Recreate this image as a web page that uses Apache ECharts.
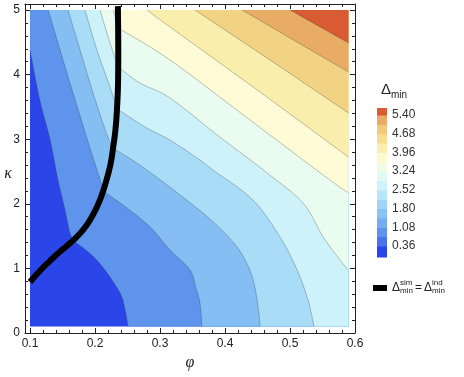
<!DOCTYPE html>
<html>
<head>
<meta charset="utf-8">
<script src="https://cdn.jsdelivr.net/npm/echarts@6/dist/echarts.min.js"></script>
<style>
html, body { margin: 0; padding: 0; background: #fff; }
#chart { width: 464px; height: 377px; }
</style>
</head>
<body>
<div id="chart"></div>
<script>
// data extent of the contour plot
const phiRange = [0.1, 0.59];
const kappaRange = [0.1, 5.0];

// contour lines, [phi, kappa]; split into pieces at the kinks
// (the kinks sit on the thick black line). low side is left / below.
const contour1 = [
    [[0.1,4.38],[0.115,3.61],[0.131,2.99],[0.143,2.37],[0.154,1.9],[0.1615,1.55],[0.169,1.41]],
    [[0.169,1.41],[0.19,1.25],[0.212,1.02],[0.2385,0.62],[0.2462,0.36],[0.251,0.1]]
];
const contour2 = [
    [[0.128,5.0],[0.154,4.12],[0.185,3.1],[0.208,2.37],[0.214,2.19]],
    [[0.214,2.19],[0.254,1.9],[0.285,1.64],[0.315,1.29],[0.346,0.98],[0.355,0.71],[0.3615,0.46],[0.3646,0.1]]
];
const contour3 = [
    [[0.1585,5.0],[0.177,4.38],[0.197,3.715],[0.2185,3.065],[0.228,2.86]],
    [[0.228,2.86],[0.269,2.6],[0.315,2.26],[0.366,1.858],[0.395,1.594],[0.4185,1.331],[0.435,1.05],[0.445,0.75],[0.451,0.4],[0.454,0.1]]
];
const contour4 = [
    [[0.1846,5.0],[0.203,4.381],[0.223,3.808],[0.234,3.47]],
    [[0.234,3.47],[0.277,3.189],[0.315,2.988],[0.357,2.709],[0.3815,2.523],[0.443,2.059],[0.4846,1.486],[0.511,0.975],[0.528,0.5],[0.537,0.1]]
];
const contour5 = [
    [[0.2077,5.0],[0.2231,4.489],[0.2358,4.12]],
    [[0.2358,4.12],[0.269,3.87],[0.3154,3.638],[0.392,3.034],[0.463,2.492],[0.52,2.012],[0.551,1.486],[0.577,1.13],[0.59,0.97]]
];
const contour6 = [
    [[0.228,5.0],[0.2356,4.72]],
    [[0.2356,4.72],[0.3154,4.226],[0.4385,3.297],[0.5615,2.368],[0.59,2.17]]
];
const contour7 = [[[0.28,5.0],[0.3154,4.737],[0.4538,3.731],[0.59,2.724]]];
const contour8 = [[[0.3538,5.0],[0.4692,4.226],[0.59,3.406]]];
const contour9 = [[[0.4262,5.0],[0.508,4.52],[0.59,4.041]]];
const contour10 = [[[0.5,5.0],[0.59,4.49]]];
const contours = [contour1, contour2, contour3, contour4, contour5, contour6, contour7, contour8, contour9, contour10];

// fill colour of each band, lowest first
const bandColors = ['#2b46e8','#5e94ec','#84bef3','#a9dcf7','#cdf2fa','#e9fcef','#fefbd6','#f9eeab','#f2d283','#e8ac64','#d95b33'];

// thick black line  Δsim = Δind
const transitionCurve = [[0.1,0.79],[0.115,0.96],[0.13,1.11],[0.145,1.25],[0.158,1.36],[0.17,1.47],[0.182,1.6],[0.193,1.76],[0.203,1.95],[0.211,2.15],[0.218,2.38],[0.224,2.62],[0.228,2.88],[0.2315,3.15],[0.234,3.5],[0.2355,3.9],[0.2358,4.3],[0.2356,4.7],[0.2352,5.06]];

// axes
const xTicks = [0.1, 0.2, 0.3, 0.4, 0.5, 0.6];
const yTicks = [0, 1, 2, 3, 4, 5];
const xMin = 0.0923, xMax = 0.6;
const yMin = 0, yMax = 5.093;

// colour bar
const barLevels = [-0.063, 0.36, 0.72, 1.08, 1.44, 1.80, 2.16, 2.52, 2.88, 3.24, 3.60, 3.96, 4.32, 4.68, 5.04, 5.40, 5.67];
const barColors = ['#2b46e8','#4b72ea','#5e94ec','#74aef0','#89c3f4','#a0d5f6','#b8e6f9','#cef3fa','#e2faf4','#f2fce4','#fdfad0','#faefb0','#f5de94','#f0c97a','#e9ab63','#d95b33'];
const barLabels = [0.36, 1.08, 1.80, 2.52, 3.24, 3.96, 4.68, 5.40];

const xMinor = [], yMinor = [];
for (let i = 5; i <= 30; i++) if (i % 5) xMinor.push(i * 0.02);
for (let i = 1; i <= 25; i++) if (i % 5) yMinor.push(i * 0.2);

// smooth pixel path through the given pixel points (catmull-rom)
function spline(pix) {
    const out = [pix[0]];
    for (let i = 0; i < pix.length - 1; i++) {
        const p0 = pix[Math.max(i - 1, 0)], p1 = pix[i], p2 = pix[i + 1], p3 = pix[Math.min(i + 2, pix.length - 1)];
        for (let s = 1; s <= 10; s++) {
            const t = s / 10, t2 = t * t, t3 = t2 * t;
            out.push([0, 1].map(k => 0.5 * (2 * p1[k] + (p2[k] - p0[k]) * t
                + (2 * p0[k] - 5 * p1[k] + 4 * p2[k] - p3[k]) * t2
                + (3 * p1[k] - p0[k] - 3 * p2[k] + p3[k]) * t3)));
        }
    }
    return out;
}
function contourPixels(pieces, api) {
    let out = [];
    pieces.forEach((piece, j) => {
        const pts = spline(piece.map(p => api.coord(p)));
        out = out.concat(j ? pts.slice(1) : pts);
    });
    return out;
}
// corners that close the region above a contour (towards the upper right)
function highCorners(pieces) {
    const first = pieces[0][0];
    const lastPiece = pieces[pieces.length - 1];
    const last = lastPiece[lastPiece.length - 1];
    const pts = [];
    if (last[1] <= kappaRange[0] + 1e-6) pts.push([phiRange[1], kappaRange[0]]);
    pts.push([phiRange[1], kappaRange[1]]);
    if (first[0] <= phiRange[0] + 1e-6) pts.push([phiRange[0], kappaRange[1]]);
    return pts;
}

const FONT = 'Liberation Sans';
const frame = {color: '#222', width: 1};

function mainAxis(pos, ticks, len, labels, min, max, line, grid) {
    return {
        gridIndex: grid, type: 'value', position: pos, min: min, max: max,
        axisLine: {show: line, onZero: false, lineStyle: frame},
        axisTick: {show: true, inside: true, length: len, customValues: ticks, lineStyle: frame},
        axisLabel: labels ? {show: true, customValues: ticks, margin: 5, color: '#222', fontSize: 12, fontFamily: FONT,
            formatter: v => (pos === 'bottom' ? v.toFixed(1) : String(Math.round(v)))} : {show: false},
        splitLine: {show: false}
    };
}

const option = {
    animation: false,
    backgroundColor: '#fff',
    grid: [
        {left: 25, top: 4, width: 330, height: 329},
        {left: 25, top: 4, width: 330, height: 329},
        {left: 377, top: 108, width: 10, height: 149}
    ],
    xAxis: [
        mainAxis('bottom', xTicks, 5, true, xMin, xMax, true, 0),
        mainAxis('top', xTicks, 5, false, xMin, xMax, true, 0),
        mainAxis('bottom', xMinor, 3, false, xMin, xMax, false, 1),
        mainAxis('top', xMinor, 3, false, xMin, xMax, false, 1),
        {gridIndex: 2, type: 'value', min: 0, max: 1, show: false}
    ],
    yAxis: [
        mainAxis('left', yTicks, 5, true, yMin, yMax, true, 0),
        mainAxis('right', yTicks, 5, false, yMin, yMax, true, 0),
        mainAxis('left', yMinor, 3, false, yMin, yMax, false, 1),
        mainAxis('right', yMinor, 3, false, yMin, yMax, false, 1),
        {
            gridIndex: 2, type: 'value', position: 'right', min: barLevels[0], max: barLevels[barLevels.length - 1],
            axisLine: {show: false},
            axisTick: {show: true, length: 3, customValues: barLabels, lineStyle: {color: '#999'}},
            axisLabel: {show: true, customValues: barLabels, margin: 5, color: '#333', fontSize: 12, fontFamily: FONT,
                formatter: v => v.toFixed(2)},
            splitLine: {show: false}
        }
    ],
    series: [
        {
            // lowest band covers the whole data area, each contour then paints the region above it
            type: 'custom', xAxisIndex: 0, yAxisIndex: 0, z: 1,
            data: bandColors.map((c, i) => [phiRange[0], kappaRange[0], i]),
            renderItem: (params, api) => {
                const i = params.dataIndex;
                let pts;
                if (i === 0) {
                    pts = [[phiRange[0], kappaRange[0]], [phiRange[1], kappaRange[0]], [phiRange[1], kappaRange[1]], [phiRange[0], kappaRange[1]]]
                        .map(p => api.coord(p));
                } else {
                    pts = contourPixels(contours[i - 1], api).concat(highCorners(contours[i - 1]).map(p => api.coord(p)));
                }
                return {type: 'polygon', shape: {points: pts}, style: {fill: bandColors[i]}};
            }
        },
        {
            type: 'custom', xAxisIndex: 0, yAxisIndex: 0, z: 2,
            data: contours.map((c, i) => [c[0][0][0], c[0][0][1], i]),
            renderItem: (params, api) => ({
                type: 'polyline',
                shape: {points: contourPixels(contours[params.dataIndex], api)},
                style: {stroke: 'rgba(60,60,60,0.45)', lineWidth: 0.7, fill: null}
            })
        },
        {
            type: 'line', xAxisIndex: 0, yAxisIndex: 0, z: 3,
            data: transitionCurve, smooth: true, symbol: 'none',
            lineStyle: {color: '#000', width: 6, cap: 'butt'}
        },
        {
            type: 'custom', xAxisIndex: 4, yAxisIndex: 4, z: 1,
            data: barColors.map((c, i) => [0, barLevels[i], i]),
            renderItem: (params, api) => {
                const i = params.dataIndex;
                const a = api.coord([0, barLevels[i + 1]]);
                const b = api.coord([1, barLevels[i]]);
                return {type: 'rect', shape: {x: a[0], y: a[1], width: b[0] - a[0], height: b[1] - a[1] + 0.5},
                    style: {fill: barColors[i]}};
            }
        }
    ],
    graphic: [
        {type: 'text', x: 190, y: 363, style: {text: 'φ', font: 'italic 16px "Liberation Serif"', fill: '#222', textAlign: 'center', textVerticalAlign: 'middle'}},
        {type: 'text', x: 8, y: 174, style: {text: 'κ', font: 'italic 16px "Liberation Serif"', fill: '#222', textAlign: 'center', textVerticalAlign: 'middle'}},
        {type: 'text', x: 381, y: 90, style: {text: 'Δ', font: '15px "Liberation Sans"', fill: '#222', textVerticalAlign: 'middle'}},
        {type: 'text', x: 391, y: 95, style: {text: 'min', font: '10px "Liberation Sans"', fill: '#222', textVerticalAlign: 'middle'}},
        {type: 'rect', shape: {x: 373, y: 285, width: 14, height: 6}, style: {fill: '#000'}},
        {type: 'text', x: 392, y: 288, style: {text: 'Δ', font: '12px "Liberation Sans"', fill: '#222', textVerticalAlign: 'middle'}},
        {type: 'text', x: 400, y: 283, style: {text: 'sim', font: '8px "Liberation Sans"', fill: '#222', textVerticalAlign: 'middle'}},
        {type: 'text', x: 400, y: 291, style: {text: 'min', font: '8px "Liberation Sans"', fill: '#222', textVerticalAlign: 'middle'}},
        {type: 'text', x: 415, y: 288, style: {text: '=', font: '12px "Liberation Sans"', fill: '#222', textVerticalAlign: 'middle'}},
        {type: 'text', x: 424, y: 288, style: {text: 'Δ', font: '12px "Liberation Sans"', fill: '#222', textVerticalAlign: 'middle'}},
        {type: 'text', x: 432, y: 283, style: {text: 'ind', font: '8px "Liberation Sans"', fill: '#222', textVerticalAlign: 'middle'}},
        {type: 'text', x: 432, y: 291, style: {text: 'min', font: '8px "Liberation Sans"', fill: '#222', textVerticalAlign: 'middle'}}
    ]
};

const chart = echarts.init(document.getElementById('chart'));
chart.setOption(option);
</script>
</body>
</html>
